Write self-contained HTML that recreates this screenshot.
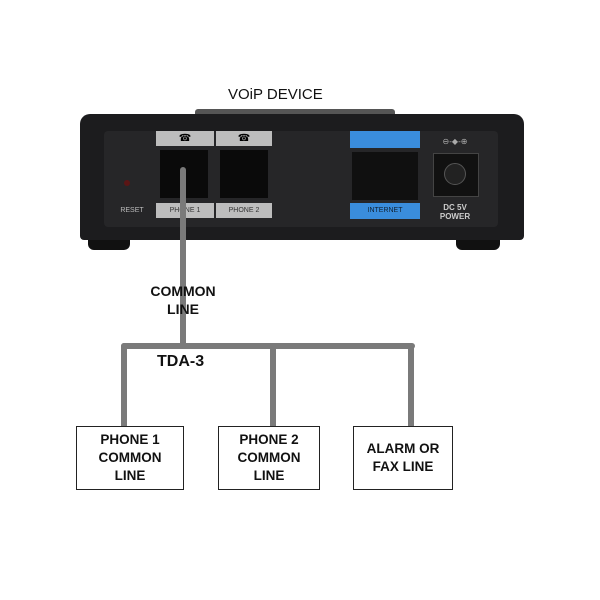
<!DOCTYPE html>
<html><head><style>
body{margin:0;width:600px;height:600px;background:#fff;position:relative;overflow:hidden;font-family:"Liberation Sans",sans-serif}
.a{position:absolute}
.lbl{font-size:7px;color:#333;text-align:center;line-height:15px}
.box{position:absolute;border:1.5px solid #222;background:#fff;font-weight:bold;font-size:13.5px;text-align:center;line-height:18px;display:flex;align-items:center;justify-content:center;color:#111}
</style></head><body>
<div class="a" style="left:228px;top:86px;font-size:15px;color:#111">VOiP DEVICE</div>
<div class="a" style="left:195px;top:109px;width:200px;height:8px;background:#555;border-radius:3px 3px 0 0"></div>
<div class="a" style="left:80px;top:114px;width:444px;height:126px;background:#1c1c1e;border-radius:10px 10px 4px 4px"></div>
<div class="a" style="left:104px;top:131px;width:394px;height:96px;background:#262628;border-radius:4px"></div>
<div class="a" style="left:88px;top:240px;width:42px;height:10px;background:#111;border-radius:0 0 6px 6px"></div>
<div class="a" style="left:456px;top:240px;width:44px;height:10px;background:#111;border-radius:0 0 6px 6px"></div>
<div class="a" style="left:124px;top:180px;width:6px;height:6px;border-radius:50%;background:#5a1515"></div>
<div class="a lbl" style="left:112px;top:203px;width:40px;color:#bbb">RESET</div>
<div class="a" style="left:156px;top:131px;width:58px;height:15px;background:#bdbdbd;text-align:center;font-size:10px;line-height:15px">☎</div>
<div class="a" style="left:216px;top:131px;width:56px;height:15px;background:#bdbdbd;text-align:center;font-size:10px;line-height:15px">☎</div>
<div class="a" style="left:160px;top:150px;width:48px;height:48px;background:#0a0a0a"></div>
<div class="a" style="left:220px;top:150px;width:48px;height:48px;background:#0a0a0a"></div>
<div class="a lbl" style="left:156px;top:203px;width:58px;height:15px;background:#bdbdbd">PHONE 1</div>
<div class="a lbl" style="left:216px;top:203px;width:56px;height:15px;background:#bdbdbd">PHONE 2</div>
<div class="a" style="left:350px;top:131px;width:70px;height:17px;background:#3a8ddc"></div>
<div class="a" style="left:352px;top:152px;width:66px;height:48px;background:#101010"></div>
<div class="a lbl" style="left:350px;top:203px;width:70px;height:16px;background:#3a8ddc;color:#123">INTERNET</div>
<div class="a" style="left:433px;top:153px;width:44px;height:42px;background:#111;border:1px solid #444"></div>
<div class="a" style="left:444px;top:163px;width:20px;height:20px;border-radius:50%;background:#222;border:1px solid #555"></div>
<div class="a" style="left:430px;top:137px;width:50px;font-size:8px;color:#aaa;text-align:center">⊖-◆-⊕</div>
<div class="a" style="left:430px;top:203px;width:50px;font-size:8px;color:#ccc;text-align:center;line-height:9px;font-weight:bold">DC 5V<br>POWER</div>
<svg class="a" style="left:0;top:0" width="600" height="600">
<g stroke="#7a7a7a" stroke-width="6" fill="none" stroke-linecap="round">
<line x1="183" y1="170" x2="183" y2="345"/>
<line x1="124" y1="346" x2="412" y2="346"/>
<line x1="124" y1="346" x2="124" y2="426"/>
<line x1="273" y1="346" x2="273" y2="426"/>
<line x1="411" y1="346" x2="411" y2="426"/>
</g></svg>
<div class="a" style="left:136px;top:282px;width:94px;text-align:center;font-weight:bold;font-size:14px;line-height:18px;color:#111">COMMON<br>LINE</div>
<div class="a" style="left:157px;top:353px;font-weight:bold;font-size:16px;color:#111">TDA-3</div>
<div class="box" style="left:76px;top:426px;width:106px;height:62px">PHONE 1<br>COMMON<br>LINE</div>
<div class="box" style="left:218px;top:426px;width:100px;height:62px">PHONE 2<br>COMMON<br>LINE</div>
<div class="box" style="left:353px;top:426px;width:98px;height:62px">ALARM OR<br>FAX LINE</div>
</body></html>
